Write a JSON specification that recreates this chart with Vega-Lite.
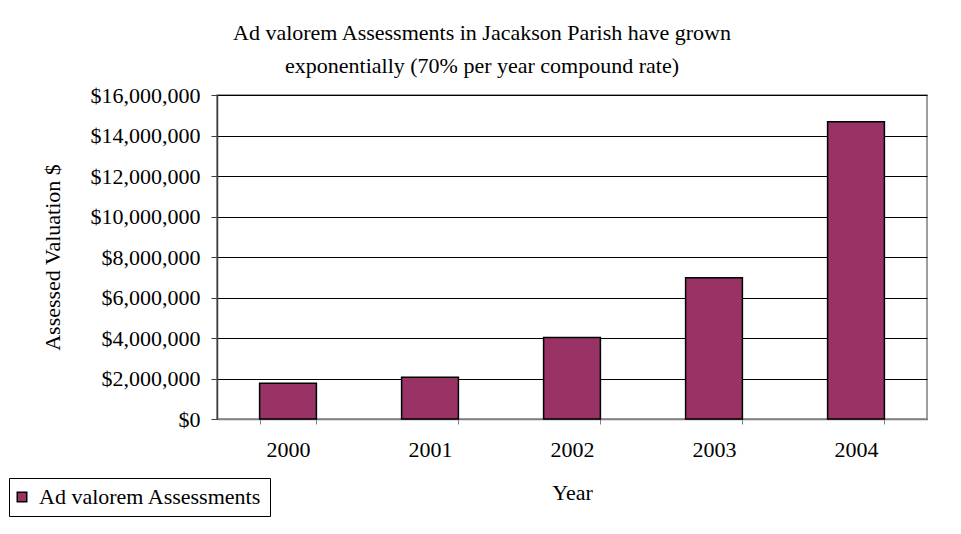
{
  "$schema": "https://vega.github.io/schema/vega-lite/v6.json",
  "width": 710,
  "height": 324,
  "autosize": {"type": "none"},
  "padding": {"left": 217, "top": 95, "right": 34, "bottom": 115},
  "background": "white",
  "title": {
    "text": ["Ad valorem Assessments in Jacakson Parish have grown", "exponentially (70% per year compound rate)"],
    "anchor": "middle",
    "frame": "group",
    "dx": -90,
    "offset": 6,
    "font": "Liberation Serif",
    "fontSize": 22,
    "fontWeight": "normal",
    "lineHeight": 33,
    "color": "black"
  },
  "data": {
    "values": [
      {"Year": "2000", "Series": "Ad valorem Assessments", "Value": 1760000},
      {"Year": "2001", "Series": "Ad valorem Assessments", "Value": 2060000},
      {"Year": "2002", "Series": "Ad valorem Assessments", "Value": 4020000},
      {"Year": "2003", "Series": "Ad valorem Assessments", "Value": 6980000},
      {"Year": "2004", "Series": "Ad valorem Assessments", "Value": 14680000}
    ]
  },
  "mark": {"type": "bar", "stroke": "black", "strokeWidth": 1.5},
  "encoding": {
    "x": {
      "field": "Year",
      "type": "ordinal",
      "scale": {"paddingInner": 0.6, "paddingOuter": 0.3},
      "axis": {
        "title": "Year",
        "labelAngle": 0,
        "tickBand": "extent",
        "tickSize": 5,
        "tickColor": "#808080",
        "domainColor": "#808080",
        "domainWidth": 1.5,
        "labelPadding": 15,
        "titlePadding": 22,
        "grid": false
      }
    },
    "y": {
      "field": "Value",
      "type": "quantitative",
      "scale": {"domain": [0, 16000000]},
      "axis": {
        "title": "Assessed Valuation $",
        "format": "$,.0f",
        "values": [0, 2000000, 4000000, 6000000, 8000000, 10000000, 12000000, 14000000, 16000000],
        "tickSize": 6,
        "tickColor": "#404040",
        "domainColor": "#404040",
        "domainWidth": 1.5,
        "labelPadding": 11,
        "titlePadding": 26,
        "grid": true,
        "gridColor": "black",
        "gridWidth": 1,
        "gridOpacity": 1
      }
    },
    "fill": {
      "field": "Series",
      "type": "nominal",
      "scale": {"range": ["#993366"]},
      "legend": {
        "title": null,
        "orient": "none",
        "legendX": -208,
        "legendY": 383,
        "symbolType": "square",
        "symbolSize": 90,
        "symbolOffset": -6,
        "symbolStrokeColor": "black",
        "symbolStrokeWidth": 1.5,
        "labelFont": "Liberation Serif",
        "labelFontSize": 22,
        "labelColor": "black",
        "labelLimit": 0,
        "labelOffset": 6,
        "padding": 8,
        "strokeColor": "black",
        "fillColor": "white"
      }
    }
  },
  "config": {
    "view": {"stroke": "#808080", "strokeWidth": 1.5},
    "axis": {
      "labelFont": "Liberation Serif",
      "labelFontSize": 22,
      "labelColor": "black",
      "titleFont": "Liberation Serif",
      "titleFontSize": 22,
      "titleFontWeight": "normal",
      "titleColor": "black",
      "labelOverlap": false
    }
  }
}
